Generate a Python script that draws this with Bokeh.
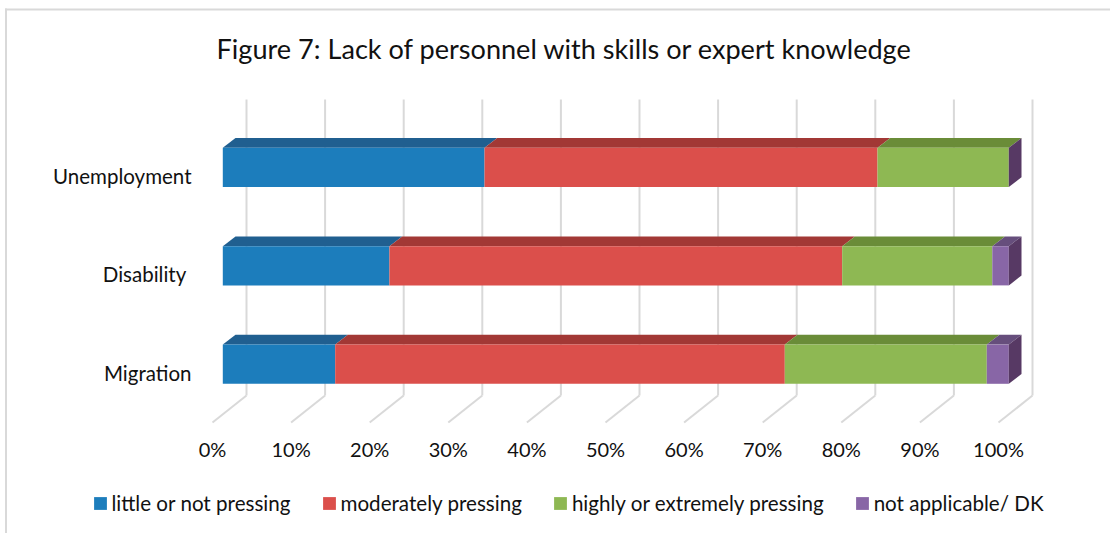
import numpy as np
from bokeh.plotting import figure
from bokeh.models import Legend, LegendItem, FixedTicker, Label
from bokeh.embed import file_html
from bokeh.resources import INLINE

# ---- data (percent of respondents) ----
categories = ["Migration", "Disability ", "Unemployment"]
series_names = ["little or not pressing", "moderately pressing",
                "highly or extremely pressing", "not applicable/ DK"]
little = [14.3, 21.2, 33.3]
moderate = [57.2, 57.6, 50.0]
high = [25.7, 19.1, 16.7]
not_applicable = [2.8, 2.1, 0.0]
x_ticks = [0, 10, 20, 30, 40, 50, 60, 70, 80, 90, 100]
title_text = "Figure 7: Lack of personnel with skills or expert knowledge"

front_colors = ["#1C7DBC", "#DB4F4B", "#8EB853", "#8866A6"]
top_colors = ["#205F90", "#A23835", "#6A8C38", "#664E7C"]
side_color = "#573964"
grid_color = "#D9D9D9"
text_color = "#111111"
FONT = "Lato"

# ---- page geometry in px ----
W, H = 1110, 533
PX_X = 7.86   # px per percent
PX_Y = 98.4   # px per category
X0_PX, Y0_PX = 212, 372

def dx(px):
    return (px - X0_PX) / PX_X

def dy(px):
    return (Y0_PX - px) / PX_Y

p = figure(width=W, height=H, output_backend="svg", toolbar_location=None,
           min_border=0, min_border_left=0, min_border_right=0, min_border_top=0, min_border_bottom=0,
           x_range=(dx(0), dx(W)), y_range=(dy(H), dy(0)),
           background_fill_color="white", border_fill_color="white", outline_line_color=None,
           title=None)
p.grid.visible = False

# chart border
p.segment([dx(5.5), dx(4.5)], [dy(H), dy(9)], [dx(5.5), dx(W)], [dy(8), dy(9)],
          line_color=grid_color, line_width=2)

# 3-D projection offsets, in data units
bar_dx = 10.3 / PX_X
depth_dx = 12.7 / PX_X
depth_dy = 9.8 / PX_Y
wall_dx = 34 / PX_X
bar_half = 19.6 / PX_Y
bar_offset = 8.3 / PX_Y
floor_front, floor_back, wall_top = dy(422), dy(395), dy(99)

# walls
xt = np.array(x_ticks, dtype=float)
p.segment(xt + wall_dx, floor_back, xt + wall_dx, wall_top, line_color=grid_color, line_width=2)
p.segment(xt, floor_front, xt + wall_dx, floor_back, line_color=grid_color, line_width=2)

# bars
vals = np.array([little, moderate, high, not_applicable])
cum = np.vstack([np.zeros(3), np.cumsum(vals, axis=0)])
ys = np.arange(len(categories), dtype=float) + bar_offset
legend_items = []
for k, name in enumerate(series_names):
    x0 = cum[k] + bar_dx
    x1 = cum[k + 1] + bar_dx
    top = ys + bar_half
    bottom = ys - bar_half
    xs_top = [[a, b, b + depth_dx, a + depth_dx] for a, b in zip(x0, x1)]
    ys_top = [[t, t, t + depth_dy, t + depth_dy] for t in top]
    p.patches(xs_top, ys_top, fill_color=top_colors[k], line_color=None)
    r = p.quad(left=x0, right=x1, top=top, bottom=bottom, fill_color=front_colors[k], line_color=None)
    legend_items.append(LegendItem(label=name, renderers=[r]))

# end faces
xe = cum[-1] + bar_dx
p.patches([[a, a + depth_dx, a + depth_dx, a] for a in xe],
          [[t, t + depth_dy, b + depth_dy, b] for t, b in zip(ys + bar_half, ys - bar_half)],
          fill_color=side_color, line_color=None)

# axes, fixed inside the frame
ax = p.xaxis[0]
ax.fixed_location = dy(428)
ax.ticker = FixedTicker(ticks=x_ticks)
ax.major_label_overrides = {t: f"{t}%" for t in x_ticks}
ax.axis_line_color = None
ax.major_tick_line_color = None
ax.minor_tick_line_color = None
ax.major_label_text_font = FONT
ax.major_label_text_font_size = "20px"
ax.major_label_text_color = text_color
ax.major_label_standoff = 2

ay = p.yaxis[0]
ay.fixed_location = dx(198)
ay.ticker = FixedTicker(ticks=list(range(len(categories))))
ay.major_label_overrides = {i: c for i, c in enumerate(categories)}
ay.axis_line_color = None
ay.major_tick_line_color = None
ay.minor_tick_line_color = None
ay.major_label_text_font = FONT
ay.major_label_text_font_size = "20.5px"
ay.major_label_text_color = text_color
ay.major_label_standoff = 1

# title
p.add_layout(Label(x=dx(564), y=dy(47.5), text=title_text, text_font=FONT, text_font_size="27.1px",
                   text_color=text_color, text_align="center", text_baseline="middle"))

# legend
leg = Legend(items=legend_items, orientation="horizontal", location=(91.5, 18),
             background_fill_alpha=0, border_line_color=None,
             glyph_width=16, glyph_height=16, label_standoff=4, spacing=30, padding=0, margin=0,
             label_text_font=FONT, label_text_font_size="20.6px", label_text_color=text_color)
p.add_layout(leg, "center")

open("out.html", "w").write(file_html(p, INLINE))
